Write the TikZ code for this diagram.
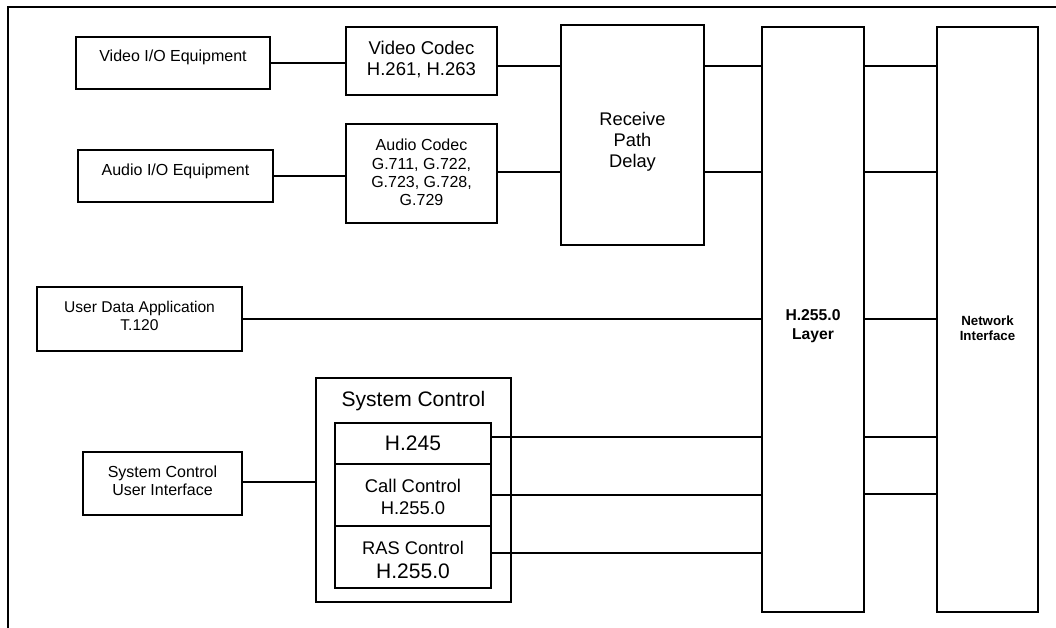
\documentclass[tikz,border=0pt]{standalone}
\usepackage{fontspec}
\setmainfont{Liberation Sans}
\begin{document}
\begin{tikzpicture}[x=1pt,y=-1pt,
  box/.style={draw=black,line width=1.8pt,fill=white,inner sep=0pt,rectangle},
  lbl/.style={inner sep=0pt,align=center},
  conn/.style={line width=1.5pt}]
\useasboundingbox (0,0) rectangle (1056,628);
\fill[white] (0,0) rectangle (1056,628);
% frame
\draw[line width=1.8pt] (1056,7) -- (8,7) -- (8,628);
% level coordinates
\coordinate (L1) at (0,66);
\coordinate (L2) at (0,172);
\coordinate (L3) at (0,319);
\coordinate (L4) at (0,437);
\coordinate (L5) at (0,494);
\coordinate (L6) at (0,553);
\coordinate (L7) at (0,482);
% boxes
\node[box,minimum width=194pt,minimum height=52pt] (vio) at (173,63) {};
\node[lbl,font=\fontsize{16}{18}\selectfont] (viot) at (173,57) {Video I/O Equipment};
\node[box,minimum width=195pt,minimum height=52pt] (aio) at (175.5,176) {};
\node[lbl,font=\fontsize{16}{18}\selectfont] (aiot) at (175.5,171) {Audio I/O Equipment};
\node[box,minimum width=151pt,minimum height=68pt] (vcodec) at (421.5,61) {};
\node[lbl,font=\fontsize{18.5}{20.7}\selectfont] (vcodect) at (421.5,59.5) {Video Codec\\H.261, H.263};
\node[box,minimum width=151pt,minimum height=99pt] (acodec) at (421.5,173.5) {};
\node[lbl,font=\fontsize{16}{18.3}\selectfont] (acodect) at (421.5,172.5) {Audio Codec\\G.711, G.722,\\G.723, G.728,\\G.729};
\node[box,minimum width=143pt,minimum height=220pt] (rpd) at (632.5,135) {};
\node[lbl,font=\fontsize{18.3}{20.8}\selectfont] (rpdt) at (632.5,142) {Receive\\Path\\Delay};
\node[box,minimum width=102pt,minimum height=585pt] (hl) at (813,319.5) {};
\node[lbl,font=\bfseries\fontsize{15.7}{19}\selectfont] (hlt) at (813,326.5) {H.255.0\\Layer};
\node[box,minimum width=101pt,minimum height=585pt] (ni) at (987.5,319.5) {};
\node[lbl,font=\bfseries\fontsize{13.3}{15}\selectfont] (nit) at (987.5,328.5) {Network\\Interface};
\node[box,minimum width=205pt,minimum height=64pt] (uda) at (139.5,319) {};
\node[lbl,font=\fontsize{15.6}{18}\selectfont] (udat) at (139.5,316) {User Data Application\\T.120};
\node[box,minimum width=159pt,minimum height=63pt] (scui) at (162.5,483.5) {};
\node[lbl,font=\fontsize{16}{17.7}\selectfont] (scuit) at (162.5,480.5) {System Control\\User Interface};
\node[box,minimum width=195pt,minimum height=224pt] (sc) at (413.5,490) {};
\node[lbl,font=\fontsize{21}{24}\selectfont] (sct) at (413.5,401) {System Control};
\node[box,minimum width=156pt,minimum height=41pt,font=\fontsize{21}{24}\selectfont] (h245) at (413,443.5) {H.245};
\node[box,minimum width=156pt,minimum height=62pt] (cc) at (413,495) {};
\node[lbl,font=\fontsize{18.4}{21.7}\selectfont] (cct) at (413,497) {Call Control\\H.255.0};
\node[box,minimum width=156pt,minimum height=62pt] (ras) at (413,557) {};
\node[lbl,font=\fontsize{18.3}{22}\selectfont] (rast) at (413,548) {RAS Control};
\node[lbl,font=\fontsize{21}{24}\selectfont] (rast2) at (413,571) {H.255.0};
% connectors
\draw[conn] (vio.east) -- (vio.east -| vcodec.west);
\draw[conn] (aio.east) -- (aio.east -| acodec.west);
\draw[conn] (vcodec.east |- L1) -- (rpd.west |- L1);
\draw[conn] (acodec.east |- L2) -- (rpd.west |- L2);
\draw[conn] (rpd.east |- L1) -- (hl.west |- L1);
\draw[conn] (rpd.east |- L2) -- (hl.west |- L2);
\draw[conn] (uda.east |- L3) -- (hl.west |- L3);
\draw[conn] (scui.east |- L7) -- (sc.west |- L7);
\draw[conn] (h245.east |- L4) -- (hl.west |- L4);
\draw[conn] (cc.east) -- (cc.east -| hl.west);
\draw[conn] (ras.east |- L6) -- (hl.west |- L6);
\draw[conn] (hl.east |- L1) -- (ni.west |- L1);
\draw[conn] (hl.east |- L2) -- (ni.west |- L2);
\draw[conn] (hl.east |- L3) -- (ni.west |- L3);
\draw[conn] (hl.east |- L4) -- (ni.west |- L4);
\draw[conn] (hl.east |- L5) -- (ni.west |- L5);
\end{tikzpicture}
\end{document}
